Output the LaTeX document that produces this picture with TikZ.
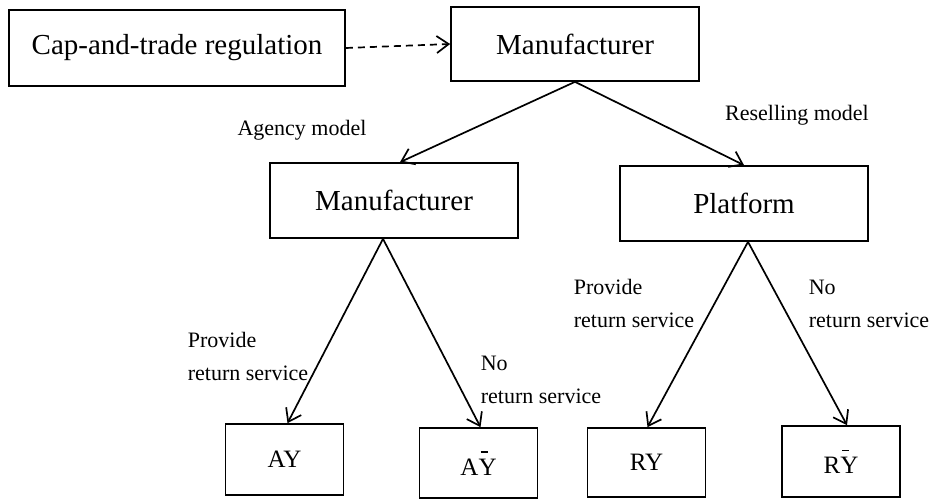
\documentclass[tikz,border=0pt]{standalone}
\usepackage{fontspec}
\setmainfont{Liberation Serif}
\usetikzlibrary{arrows.meta}

% Y 上的短横线
\newcommand{\ybar}{\makebox[0pt][l]{\hspace{0.08em}\raisebox{0.9em}{\rule{0.28em}{0.06em}}}Y}

\begin{document}
\begin{tikzpicture}[x=1pt, y=-1pt, >={Straight Barb[length=12pt,width=17pt]},
    line width=1.7pt,
    box/.style={draw, line width=1.7pt, minimum width=248pt, minimum height=75pt,
                font=\fontsize{29}{34}\selectfont},
    leaf/.style={draw, line width=1.7pt, minimum width=118pt, minimum height=70pt,
                 font=\fontsize{25}{30}\selectfont},
    lbl/.style={align=left, inner sep=0pt, font=\fontsize{22}{33}\selectfont}]
    \useasboundingbox (0,0) rectangle (933,500);

    % 1. 上层方框
    \node[box, minimum width=336pt, minimum height=76pt] (cap) at (177,48) {Cap-and-trade regulation};
    \node[box, minimum height=74pt] (mfr) at (575,44) {Manufacturer};

    % 2. 中层方框
    \node[box] (mfrA) at (394,200.5) {Manufacturer};
    \node[box] (plat) at (744,203.5) {Platform};

    % 3. 底层方框
    \node[leaf, minimum height=71pt] (ay) at (284.5,459.5) {AY};
    \node[leaf] (aybar) at (478.5,463) {A\ybar};
    \node[leaf, minimum height=69pt] (ry) at (646.5,462.5) {RY};
    \node[leaf, minimum height=71pt] (rybar) at (841,461.5) {R\ybar};

    % 4. 连线
    \draw[->, dashed, dash pattern=on 7pt off 5pt] (cap.east) -- (mfr.west);
    \draw[->] (mfr.south) -- ([xshift=6pt]mfrA.north);
    \draw[->] (mfr.south) -- (plat.north);
    \draw[->] ([xshift=-11pt]mfrA.south) -- ([xshift=3pt]ay.north);
    \draw[->] ([xshift=-11pt]mfrA.south) -- ([xshift=2pt]aybar.north);
    \draw[->] ([xshift=4pt]plat.south) -- ([xshift=1pt]ry.north);
    \draw[->] ([xshift=4pt]plat.south) -- ([xshift=6pt]rybar.north);

    % 5. 标注
    \node[lbl] (agency) at (302,130) {Agency model};
    \node[lbl] (resell) at (797,115) {Reselling model};
    \node[lbl, anchor=west] (provA) at (187,356.5) {Provide\\return service};
    \node[lbl, anchor=west] (noA) at (480,380) {No\\return service};
    \node[lbl, anchor=west] (provR) at (573,303.5) {Provide\\return service};
    \node[lbl, anchor=west] (noR) at (808,303.5) {No\\return service};

\end{tikzpicture}
\end{document}
